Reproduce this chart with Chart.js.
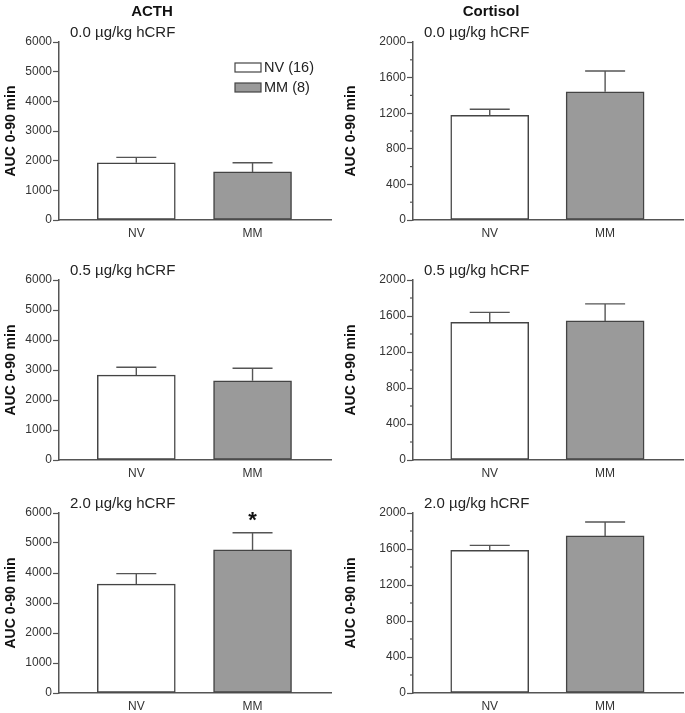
<!DOCTYPE html>
<html>
<head>
<meta charset="utf-8">
<script src="https://cdn.jsdelivr.net/npm/chart.js@4.4.0/dist/chart.umd.min.js"></script>
<style>
  body { margin: 0; background: #fff; }
  #wrap { position: relative; width: 685px; height: 713px; }
  .panel { position: absolute; }
</style>
</head>
<body>
<div id="wrap"></div>
<script>
// data
const categories = ['NV', 'MM'];
const groupLabels = ['NV (16)', 'MM (8)'];
const doses = ['0.0 µg/kg hCRF', '0.5 µg/kg hCRF', '2.0 µg/kg hCRF'];
const hormones = ['ACTH', 'Cortisol'];

const acthMean = [[1930, 1620], [2830, 2640], [3630, 4770]];
const acthErr = [[180, 310], [260, 420], [350, 570]];
const acthStar = [[false, false], [false, false], [false, true]];
const acthTicks = [0, 1000, 2000, 3000, 4000, 5000, 6000];

const cortMean = [[1175, 1440], [1530, 1545], [1585, 1745]];
const cortErr = [[70, 235], [110, 190], [55, 155]];
const cortStar = [[false, false], [false, false], [false, false]];
const cortTicks = [0, 400, 800, 1200, 1600, 2000];
const cortMinor = [200, 600, 1000, 1400, 1800];

const barColors = ['#ffffff', '#9a9a9a'];
const FONT = "'Liberation Sans', Arial, Helvetica, sans-serif";

// layout of the 3x2 grid
const cols = [
  { left: 0, width: 340, axisX: 59, padRight: 9, titleX: 152 },
  { left: 340, width: 345, axisX: 73, padRight: 2, titleX: 151 }
];
const rows = [
  { top: 0, height: 240, padTop: 42 },
  { top: 240, height: 240, padTop: 40 },
  { top: 480, height: 233, padTop: 33 }
];

function decor(cfg) {
  return {
    id: 'decor' ,
    afterDatasetsDraw(chart) {
      const ctx = chart.ctx;
      const y = chart.scales.y;
      const meta = chart.getDatasetMeta(0);
      ctx.save();
      ctx.strokeStyle = '#555';
      ctx.lineWidth = 1.4;
      meta.data.forEach((bar, i) => {
        const top = y.getPixelForValue(cfg.mean[i] + cfg.err[i]);
        ctx.beginPath();
        ctx.moveTo(bar.x, bar.y);
        ctx.lineTo(bar.x, top);
        ctx.moveTo(bar.x - 20, top);
        ctx.lineTo(bar.x + 20, top);
        ctx.stroke();
        if (cfg.star[i]) {
          ctx.fillStyle = '#111';
          ctx.font = 'bold 22px ' + FONT;
          ctx.textAlign = 'center';
          ctx.textBaseline = 'middle';
          ctx.fillText('*', bar.x, top - 12);
        }
      });
      ctx.restore();
    },
    afterDraw(chart) {
      const ctx = chart.ctx;
      const area = chart.chartArea;
      const y = chart.scales.y;
      ctx.save();
      // minor ticks
      ctx.strokeStyle = '#555';
      ctx.lineWidth = 1.2;
      (cfg.minor || []).forEach(v => {
        const py = y.getPixelForValue(v);
        ctx.beginPath();
        ctx.moveTo(area.left - 3, py);
        ctx.lineTo(area.left, py);
        ctx.stroke();
      });
      // dose label
      ctx.fillStyle = '#222';
      ctx.font = '15px ' + FONT;
      ctx.textAlign = 'left';
      ctx.textBaseline = 'middle';
      ctx.fillText(cfg.dose, area.left + 11, area.top - 9);
      // column header
      if (cfg.header) {
        ctx.font = 'bold 15px ' + FONT;
        ctx.textAlign = 'center';
        ctx.fillStyle = '#111';
        ctx.fillText(cfg.header, cfg.headerX, 12);
      }
      // legend
      if (cfg.legend) {
        groupLabels.forEach((lab, i) => {
          const by = 63 + i * 20;
          ctx.fillStyle = barColors[i];
          ctx.fillRect(235, by, 26, 9);
          ctx.strokeStyle = '#444';
          ctx.lineWidth = 1.2;
          ctx.strokeRect(235, by, 26, 9);
          ctx.fillStyle = '#222';
          ctx.font = '14.5px ' + FONT;
          ctx.textAlign = 'left';
          ctx.fillText(lab, 264, by + 5);
        });
      }
      ctx.restore();
    }
  };
}

const wrap = document.getElementById('wrap');

rows.forEach((row, r) => {
  cols.forEach((col, c) => {
    const isActh = c === 0;
    const mean = isActh ? acthMean[r] : cortMean[r];
    const err = isActh ? acthErr[r] : cortErr[r];
    const star = isActh ? acthStar[r] : cortStar[r];
    const ticks = isActh ? acthTicks : cortTicks;

    const div = document.createElement('div');
    div.className = 'panel';
    div.style.left = col.left + 'px';
    div.style.top = row.top + 'px';
    div.style.width = col.width + 'px';
    div.style.height = row.height + 'px';
    const canvas = document.createElement('canvas');
    div.appendChild(canvas);
    wrap.appendChild(div);

    new Chart(canvas, {
      type: 'bar',
      data: {
        datasets: [{
          data: categories.map((cat, i) => ({ x: i, y: mean[i] })),
          backgroundColor: barColors,
          borderColor: '#444',
          borderWidth: 1.5,
          borderSkipped: false,
          barThickness: 78
        }]
      },
      options: {
        responsive: true,
        maintainAspectRatio: false,
        animation: false,
        layout: { padding: { top: row.padTop, right: col.padRight, left: 0, bottom: 0 } },
        plugins: { legend: { display: false }, tooltip: { enabled: false } },
        scales: {
          x: {
            type: 'linear',
            offset: false,
            min: -0.665,
            max: 1.675,
            afterBuildTicks: s => { s.ticks = categories.map((cat, i) => ({ value: i })); },
            afterFit: s => { s.height = 20; },
            grid: { display: false, drawTicks: false, offset: false },
            border: { display: true, color: '#555', width: 1.5 },
            ticks: {
              callback: v => categories[v],
              color: '#333',
              padding: 6,
              font: { family: FONT, size: 12 }
            }
          },
          y: {
            min: ticks[0],
            max: ticks[ticks.length - 1],
            afterBuildTicks: s => { s.ticks = ticks.map(v => ({ value: v })); },
            afterFit: s => { s.width = col.axisX; },
            grid: { drawOnChartArea: false, drawTicks: true, tickLength: 6, color: '#555', tickWidth: 1.2 },
            border: { display: true, color: '#555', width: 1.5 },
            ticks: {
              callback: v => String(v),
              color: '#333',
              padding: 1,
              font: { family: FONT, size: 12 }
            },
            title: {
              display: true,
              text: 'AUC 0-90 min',
              color: '#111',
              padding: 3,
              font: { family: FONT, size: 14, weight: 'bold' }
            }
          }
        }
      },
      plugins: [decor({
        mean: mean, err: err, star: star,
        minor: isActh ? null : cortMinor,
        dose: doses[r],
        header: r === 0 ? hormones[c] : null,
        headerX: col.titleX,
        legend: r === 0 && isActh
      })]
    });
  });
});
</script>
</body>
</html>
